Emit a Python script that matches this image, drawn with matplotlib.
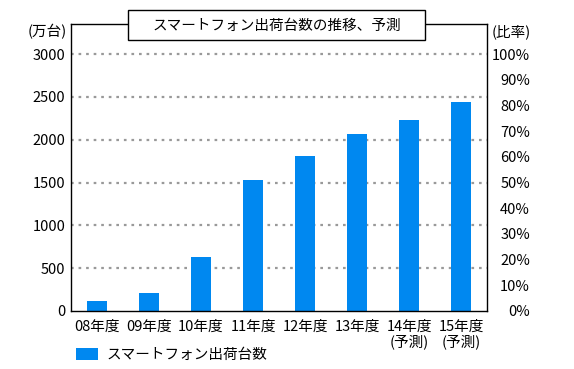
import matplotlib
matplotlib.use("Agg")
import matplotlib.pyplot as plt
from matplotlib.patches import Rectangle
import numpy as np

plt.rcParams['font.family'] = ['Noto Sans CJK JP', 'DejaVu Sans']

categories = ["08年度", "09年度", "10年度", "11年度", "12年度", "13年度", "14年度\n(予測)", "15年度\n(予測)"]
shipments = [117, 210, 627, 1529, 1809, 2066, 2229, 2440]
left_ticks = [0, 500, 1000, 1500, 2000, 2500, 3000]
right_ticks = list(range(0, 101, 10))
title = "スマートフォン出荷台数の推移、予測"
legend_label = "スマートフォン出荷台数"

W, H = 574, 369
fig = plt.figure(figsize=(W / 100, H / 100), dpi=100)
ax_l, ax_r, ax_t, ax_b = 71, 487, 24, 311
ax = fig.add_axes([ax_l / W, 1 - ax_b / H, (ax_r - ax_l) / W, (ax_b - ax_t) / H])

color = '#0088f0'
x = np.arange(len(categories))
ymax = 3000 * (ax_b - ax_t) / (ax_b - 54)
ax.set_ylim(0, ymax)
ax.set_xlim(-0.5, len(categories) - 0.5)
for v in left_ticks[1:]:
    ax.axhline(v, color='#999999', lw=1.6, ls=(0, (1.2, 2.2)), zorder=1)
ax.bar(x, shipments, width=0.4, color=color, zorder=2, label=legend_label)

ax.set_yticks(left_ticks)
ax.set_yticklabels([str(v) for v in left_ticks], fontsize=10.5)
ax.tick_params(axis='y', length=0, pad=4)
ax.set_xticks(x)
ax.set_xticklabels(categories, fontsize=10.5, linespacing=1.05)
ax.tick_params(axis='x', length=0, pad=6)
for s in ax.spines.values():
    s.set_color('black')
    s.set_linewidth(1.0)

ax2 = ax.twinx()
ax2.set_ylim(0, 100 * ymax / 3000)
ax2.set_yticks(right_ticks)
ax2.set_yticklabels([f"{v}%" for v in right_ticks], fontsize=10.5, ha='right')
ax2.tick_params(axis='y', length=0, pad=31)
for s in ax2.spines.values():
    s.set_visible(False)

fig.text(47 / W, 1 - 32 / H, "(万台)", fontsize=10.5, ha='center', va='center')
fig.text(511 / W, 1 - 32 / H, "(比率)", fontsize=10.5, ha='center', va='center')

bx0, bx1, by0, by1 = 128, 425, 10, 40
fig.patches.append(Rectangle((bx0 / W, 1 - by1 / H), (bx1 - bx0) / W, (by1 - by0) / H,
                             transform=fig.transFigure, fc='white', ec='black', lw=1.0, zorder=10))
fig.text((bx0 + bx1) / 2 / W, 1 - 25.5 / H, title, fontsize=10.5, ha='center', va='center', zorder=11)

fig.legend(loc='lower left', bbox_to_anchor=(76 / W, 1 - 362 / H), frameon=False,
           fontsize=10.5, handlelength=1.5, handleheight=0.8, handletextpad=0.6,
           borderaxespad=0, borderpad=0)

fig.savefig("out.png", dpi=100)
